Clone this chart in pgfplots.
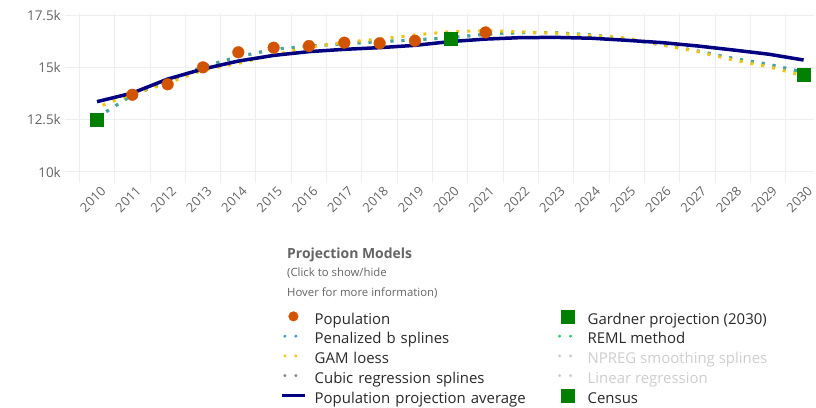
\documentclass[border=0pt]{standalone}
\usepackage{fontspec}
\setmainfont{Open Sans}
\usepackage{pgfplots}
\pgfplotsset{compat=1.18}
\definecolor{popcol}{RGB}{211,84,0}
\definecolor{census}{RGB}{0,128,0}
\definecolor{navyline}{RGB}{0,0,128}
\definecolor{pbs}{RGB}{52,152,219}
\definecolor{gam}{RGB}{241,196,15}
\definecolor{crs}{RGB}{127,140,141}
\definecolor{reml}{RGB}{46,204,113}
\definecolor{hidden}{RGB}{205,205,205}
\definecolor{gridcol}{RGB}{238,238,238}
\definecolor{tickcol}{RGB}{100,100,100}
\definecolor{titlecol}{RGB}{100,100,100}
\definecolor{legtext}{RGB}{40,40,40}

\tikzset{dotline/.style={line width=3bp, dash pattern=on 3bp off 8bp}}

\begin{document}
\begin{tikzpicture}
\path (0,0) rectangle (816bp,408bp);
\begin{axis}[
  at={(65bp,225bp)}, anchor=south west,
  scale only axis, width=749bp, height=170bp,
  xmin=2009.094, xmax=2030.294, ymin=9.474, ymax=17.596,
  axis line style={draw=none},
  major tick length=0pt, minor tick length=0pt,
  xtick={2010,2011,...,2030},
  xticklabels={2010,2011,2012,2013,2014,2015,2016,2017,2018,2019,2020,2021,2022,2023,2024,2025,2026,2027,2028,2029,2030},
  minor xtick={2009.5,2010.5,...,2029.5},
  xminorgrids=true, xmajorgrids=false, ymajorgrids=true,
  grid style={gridcol, line width=1bp},
  minor grid style={gridcol, line width=1bp},
  ytick={10,12.5,15,17.5},
  yticklabels={10k,12.5k,15k,17.5k},
  yticklabel style={font=\fontsize{13.5}{13.5}\selectfont, text=tickcol, inner sep=0bp, xshift=-4bp},
  xticklabel style={font=\fontsize{13}{13}\selectfont, text=tickcol, rotate=45, anchor=east, inner sep=0bp, xshift=0.5bp, yshift=-8.5bp},
  legend columns=2,
  legend cell align=left,
  legend style={at={(0.2870,-0.7441)}, anchor=north west, draw=none, fill=none, inner sep=0pt,
    font=\fontsize{15}{15}\selectfont, text=legtext,
    nodes={inner sep=0pt, text height=10.5bp, text depth=3bp},
    row sep=2.5bp,
    /tikz/column 1/.style={column sep=8bp},
    /tikz/column 2/.style={nodes={text width=242bp}},
    /tikz/column 3/.style={column sep=8bp}},
]
% Population
\addplot[only marks, mark=*, mark size=5.8bp, color=popcol, forget plot] coordinates {
 (2011,13.69) (2012,14.19) (2013,15.00) (2014,15.72) (2015,15.94) (2016,16.02)
 (2017,16.18) (2018,16.15) (2019,16.27) (2020,16.39) (2021,16.67)};
% Gardner projection (2030)
\addplot[only marks, mark=square*, mark size=6.5bp, color=census, forget plot] coordinates {(2030,14.67)};
% Penalized b splines, cubic regression splines, REML (nearly identical)
\addplot[pbs, dotline, forget plot] coordinates {
 (2010,12.60) (2011,13.68) (2012,14.31) (2013,15.03) (2014,15.51) (2015,15.86) (2016,16.02)
 (2017,16.12) (2018,16.23) (2019,16.31) (2020,16.42) (2021,16.58) (2022,16.66) (2023,16.65)
 (2024,16.55) (2025,16.35) (2026,16.07) (2027,15.78) (2028,15.43) (2029,15.15) (2030,14.76)};
\addplot[crs, dotline, opacity=0.5, forget plot] coordinates {
 (2010,12.60) (2011,13.68) (2012,14.31) (2013,15.03) (2014,15.51) (2015,15.86) (2016,16.02)
 (2017,16.12) (2018,16.23) (2019,16.31) (2020,16.42) (2021,16.58) (2022,16.66) (2023,16.65)
 (2024,16.55) (2025,16.35) (2026,16.07) (2027,15.78) (2028,15.43) (2029,15.15) (2030,14.76)};
\addplot[reml, dotline, opacity=0.35, forget plot] coordinates {
 (2010,12.60) (2011,13.68) (2012,14.31) (2013,15.03) (2014,15.51) (2015,15.86) (2016,16.02)
 (2017,16.12) (2018,16.23) (2019,16.31) (2020,16.42) (2021,16.58) (2022,16.66) (2023,16.65)
 (2024,16.55) (2025,16.35) (2026,16.07) (2027,15.78) (2028,15.43) (2029,15.15) (2030,14.76)};
% GAM loess
\addplot[gam, dotline, dash phase=5bp, forget plot] coordinates {
 (2010,13.09) (2011,13.73) (2012,14.24) (2013,14.87) (2014,15.19) (2015,15.59) (2016,15.96)
 (2017,16.20) (2018,16.35) (2019,16.55) (2020,16.70) (2021,16.75) (2022,16.70) (2023,16.63)
 (2024,16.52) (2025,16.40) (2026,16.07) (2027,15.75) (2028,15.35) (2029,15.03) (2030,14.59)};
% Population projection average
\addplot[navyline, line width=3.5bp, forget plot] coordinates {
 (2010,13.36) (2011,13.77) (2012,14.44) (2013,14.92) (2014,15.30) (2015,15.57) (2016,15.75)
 (2017,15.86) (2018,15.94) (2019,16.05) (2020,16.23) (2021,16.35) (2022,16.42) (2023,16.43)
 (2024,16.39) (2025,16.29) (2026,16.18) (2027,16.02) (2028,15.83) (2029,15.63) (2030,15.35)};
% Census
\addplot[only marks, mark=square*, mark size=6.5bp, color=census, forget plot] coordinates {(2010,12.48) (2020,16.39)};

% legend, row by row
\addlegendimage{legend image code/.code={\path[draw=none] (0bp,-2.5bp) rectangle (23bp,10.5bp); \fill[popcol] (11.5bp,4bp) circle (4.8bp);}}
\addlegendentry{Population}
\addlegendimage{legend image code/.code={\path[draw=none] (0bp,-2.5bp) rectangle (23bp,10.5bp); \fill[census] (5bp,-2.5bp) rectangle (18bp,10.5bp);}}
\addlegendentry{Gardner projection (2030)}
\addlegendimage{legend image code/.code={\path[draw=none] (0bp,-2.5bp) rectangle (23bp,10.5bp); \fill[pbs] (3bp,4bp) circle (1.3bp) (14bp,4bp) circle (1.3bp);}}
\addlegendentry{Penalized b splines}
\addlegendimage{legend image code/.code={\path[draw=none] (0bp,-2.5bp) rectangle (23bp,10.5bp); \fill[reml] (3bp,4bp) circle (1.3bp) (14bp,4bp) circle (1.3bp);}}
\addlegendentry{REML method}
\addlegendimage{legend image code/.code={\path[draw=none] (0bp,-2.5bp) rectangle (23bp,10.5bp); \fill[gam] (3bp,4bp) circle (1.3bp) (14bp,4bp) circle (1.3bp);}}
\addlegendentry{GAM loess}
\addlegendimage{legend image code/.code={\path[draw=none] (0bp,-2.5bp) rectangle (23bp,10.5bp); \fill[hidden] (3bp,4bp) circle (1.3bp) (14bp,4bp) circle (1.3bp);}}
\addlegendentry[text=hidden]{NPREG smoothing splines}
\addlegendimage{legend image code/.code={\path[draw=none] (0bp,-2.5bp) rectangle (23bp,10.5bp); \fill[crs] (3bp,4bp) circle (1.3bp) (14bp,4bp) circle (1.3bp);}}
\addlegendentry{Cubic regression splines}
\addlegendimage{legend image code/.code={\path[draw=none] (0bp,-2.5bp) rectangle (23bp,10.5bp); \fill[hidden] (3bp,4bp) circle (1.3bp) (14bp,4bp) circle (1.3bp);}}
\addlegendentry[text=hidden]{Linear regression}
\addlegendimage{legend image code/.code={\path[draw=none] (0bp,-2.5bp) rectangle (23bp,10.5bp); \draw[navyline, line width=3.5bp] (0bp,4bp) -- (23bp,4bp);}}
\addlegendentry{Population projection average}
\addlegendimage{legend image code/.code={\path[draw=none] (0bp,-2.5bp) rectangle (23bp,10.5bp); \fill[census] (5bp,-2.5bp) rectangle (18bp,10.5bp);}}
\addlegendentry{Census}
\end{axis}
\node[anchor=west, inner sep=0pt, text=titlecol, font=\fontsize{14}{14}\selectfont\bfseries] at (287bp,153bp) {Projection Models};
\node[anchor=west, inner sep=0pt, text=titlecol, font=\fontsize{11.4}{11.4}\selectfont] at (287bp,135bp) {(Click to show/hide};
\node[anchor=west, inner sep=0pt, text=titlecol, font=\fontsize{11.4}{11.4}\selectfont] at (287bp,115bp) {Hover for more information)};
\end{tikzpicture}
\end{document}
